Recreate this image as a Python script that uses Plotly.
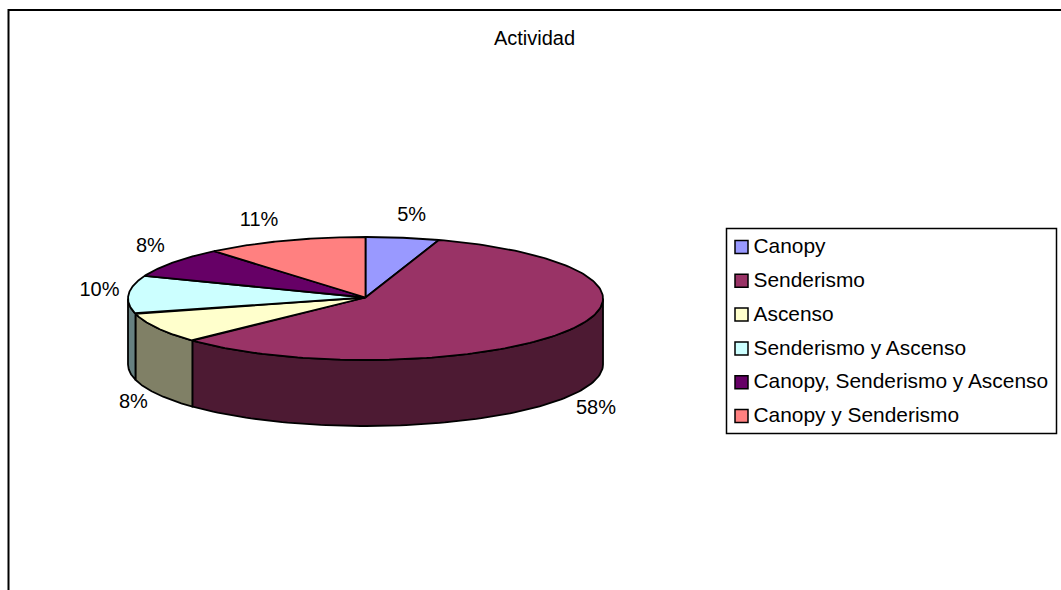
import numpy as np
import plotly.graph_objects as go

categories = ["Canopy", "Senderismo", "Ascenso", "Senderismo y Ascenso",
              "Canopy, Senderismo y Ascenso", "Canopy y Senderismo"]
values = [5, 58, 8, 10, 8, 11]
top_colors = ["#9999FF", "#993366", "#FFFFCC", "#CCFFFF", "#660066", "#FF8080"]
side_colors = ["#4C4C80", "#4D1A33", "#808066", "#668080", "#330033", "#804040"]
label_dx = [9, 30, -24, -29, -23, -26]
label_dy = [-22, 12, 9, -4, -15, -20]

W, H = 1061, 590
CX, CY, RX, RY, DEPTH = 365.5, 298.5, 237.5, 61.5, 66
LEG_X0, LEG_X1, LEG_Y0, LEG_Y1 = 726.5, 1056.5, 228.5, 433.5
LEG_SWATCH_X, LEG_TEXT_X, LEG_ROW0, LEG_STEP = 741.5, 753.5, 247, 33.8
FONT = "Liberation Sans, Arial, sans-serif"
LINE = dict(color="#000000", width=1.8)


def rim(t, drop=0.0):
    return CX + RX * np.sin(t), CY - RY * np.cos(t) + drop


fractions = np.array(values, dtype=float) / sum(values)
edges = np.concatenate([[0.0], np.cumsum(fractions)]) * 2 * np.pi

fig = go.Figure()

# Front walls of the disc, only the visible arc (90 to 270 degrees)
for i, name in enumerate(categories):
    a, b = max(edges[i], np.pi / 2), min(edges[i + 1], 3 * np.pi / 2)
    if b <= a:
        continue
    t = np.linspace(a, b, 100)
    x1, y1 = rim(t)
    x2, y2 = rim(t[::-1], DEPTH)
    fig.add_trace(go.Scatter(
        x=np.concatenate([x1, x2, x1[:1]]), y=np.concatenate([y1, y2, y1[:1]]),
        mode="lines", fill="toself", fillcolor=side_colors[i], line=LINE,
        showlegend=False, hoverinfo="skip"))

# Top faces
for i, name in enumerate(categories):
    t = np.linspace(edges[i], edges[i + 1], 160)
    x, y = rim(t)
    fig.add_trace(go.Scatter(
        x=np.concatenate([[CX], x, [CX]]), y=np.concatenate([[CY - 1], y, [CY - 1]]),
        mode="lines", fill="toself", fillcolor=top_colors[i], line=LINE,
        name=name, showlegend=False, hoverinfo="name"))

# Percent labels
lx, ly = [], []
for i in range(len(values)):
    mid = (edges[i] + edges[i + 1]) / 2
    drop = DEPTH if i in (1, 2) else 0
    px, py = rim(mid, drop)
    lx.append(px + label_dx[i])
    ly.append(py + label_dy[i])
fig.add_trace(go.Scatter(
    x=lx, y=ly, mode="text", text=[f"{v}%" for v in values], textposition="middle center",
    textfont=dict(family=FONT, size=20, color="#000000"), showlegend=False, hoverinfo="skip"))

# Legend: swatches and names in a framed box
rows = [LEG_ROW0 + LEG_STEP * i for i in range(len(categories))]
fig.add_trace(go.Scatter(
    x=[LEG_SWATCH_X] * len(rows), y=rows, mode="markers",
    marker=dict(symbol="square", size=13, color=top_colors,
                line=dict(color="#000000", width=1.5)),
    showlegend=False, hovertext=categories, hoverinfo="text"))
fig.add_trace(go.Scatter(
    x=[LEG_TEXT_X] * len(rows), y=[r + 1 for r in rows], mode="text", text=categories,
    textposition="middle right",
    textfont=dict(family=FONT, size=20.9, color="#000000"),
    showlegend=False, hoverinfo="skip"))

fig.update_layout(
    width=W, height=H, autosize=False,
    margin=dict(l=0, r=0, t=0, b=0),
    paper_bgcolor="#FFFFFF", plot_bgcolor="#FFFFFF",
    showlegend=False,
    xaxis=dict(range=[0, W], visible=False, fixedrange=True),
    yaxis=dict(range=[H, 0], visible=False, fixedrange=True),
    title=dict(text="Actividad", x=534.5 / W, xanchor="center", y=1 - 38 / H, yanchor="middle",
               font=dict(family=FONT, size=20, color="#000000")),
    shapes=[
        dict(type="line", xref="x", yref="y", x0=8, x1=W, y0=10, y1=10,
             line=dict(color="#000000", width=2)),
        dict(type="line", xref="x", yref="y", x0=8.5, x1=8.5, y0=9, y1=H,
             line=dict(color="#000000", width=2)),
        dict(type="rect", xref="x", yref="y", x0=LEG_X0, x1=LEG_X1, y0=LEG_Y0, y1=LEG_Y1,
             line=dict(color="#000000", width=1.5), fillcolor="rgba(0,0,0,0)"),
    ],
)

fig.write_html("out.html", config={"displayModeBar": False},
               post_script="document.body.style.margin='0';")
